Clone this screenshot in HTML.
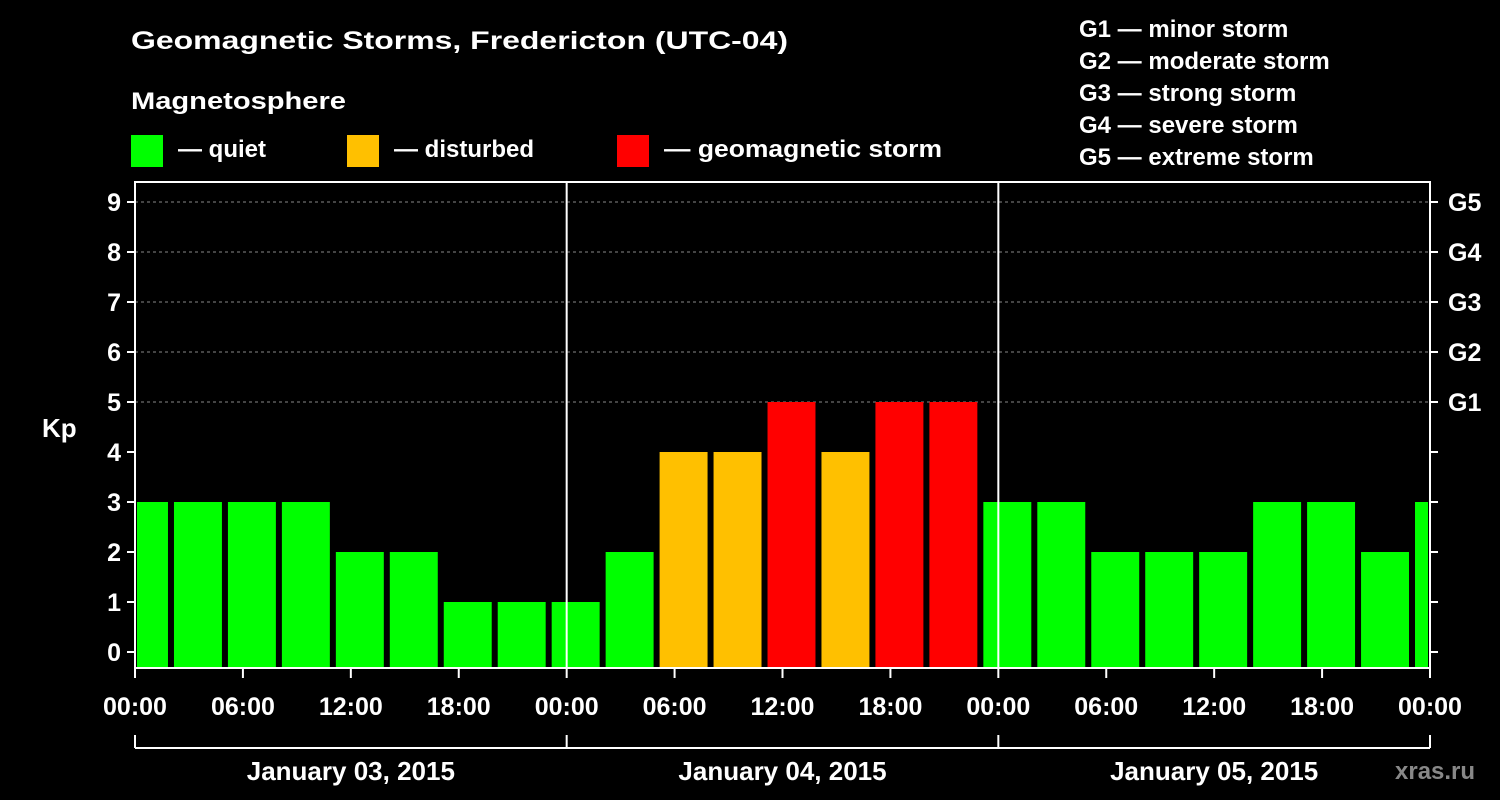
<!DOCTYPE html>
<html><head><meta charset="utf-8"><style>
html,body{margin:0;padding:0;background:#000;}
svg{display:block;font-family:"Liberation Sans",sans-serif;font-weight:bold;}
</style></head><body>
<svg id="chart" width="1500" height="800" viewBox="0 0 1500 800">
<rect x="0" y="0" width="1500" height="800" fill="#000"/>
<text x="131" y="49" fill="#fff" font-size="25" textLength="657" lengthAdjust="spacingAndGlyphs">Geomagnetic Storms, Fredericton (UTC-04)</text>
<text x="131" y="109" fill="#fff" font-size="24" textLength="215" lengthAdjust="spacingAndGlyphs">Magnetosphere</text>
<g><rect x="131" y="135" width="32" height="32" fill="#00ff00"/><text x="178" y="157" fill="#fff" font-size="24">— quiet</text></g>
<g><rect x="347" y="135" width="32" height="32" fill="#ffc000"/><text x="394" y="157" fill="#fff" font-size="24">— disturbed</text></g>
<g><rect x="617" y="135" width="32" height="32" fill="#ff0000"/><text x="664" y="157" fill="#fff" font-size="24" textLength="278" lengthAdjust="spacingAndGlyphs">— geomagnetic storm</text></g>
<g fill="#fff" font-size="24">
<text x="1079" y="37">G1 — minor storm</text>
<text x="1079" y="69">G2 — moderate storm</text>
<text x="1079" y="101">G3 — strong storm</text>
<text x="1079" y="133">G4 — severe storm</text>
<text x="1079" y="165">G5 — extreme storm</text>
</g>
<text x="42" y="437" fill="#fff" font-size="26">Kp</text>
<text x="1395" y="779" fill="#888" font-size="24">xras.ru</text>
<g id="grid"></g><g id="bars"></g><g id="axes"></g>
</svg>
<script>
const kpValues=[3,3,3,3,2,2,1,1,1,2,4,4,5,4,5,5,3,3,2,2,2,3,3,2,3];
const yTicks=[0,1,2,3,4,5,6,7,8,9];
const gLabels=["","","","","","G1","G2","G3","G4","G5"];
const xTickLabels=["00:00","06:00","12:00","18:00","00:00","06:00","12:00","18:00","00:00","06:00","12:00","18:00","00:00"];
const dateLabels=["January 03, 2015","January 04, 2015","January 05, 2015"];
const firstBarHour=-1, barHours=3;
const NS="http://www.w3.org/2000/svg";
const X0=135,X1=1430,TOP=182,BOT=668;
const pxPerHour=(X1-X0)/72;
const xs=h=>X0+h*pxPerHour;
const ys=v=>652-50*v;
function mk(tag,attrs,parent,txt){const e=document.createElementNS(NS,tag);for(const k in attrs)e.setAttribute(k,attrs[k]);if(txt!==undefined)e.textContent=txt;parent.appendChild(e);return e;}
const grid=document.getElementById('grid'),bars=document.getElementById('bars'),axes=document.getElementById('axes');
yTicks.forEach(v=>{if(v>=5){const l=mk('line',{x1:X0,x2:X1,y1:ys(v),y2:ys(v),stroke:'#888','stroke-dasharray':'3,3'},grid);

}});
mk('clipPath',{id:'clip'},bars).appendChild(Object.assign(document.createElementNS(NS,'rect'),{}));
const cr=bars.querySelector('clipPath rect');cr.setAttribute('x',X0+2);cr.setAttribute('y',TOP);cr.setAttribute('width',X1-X0-4);cr.setAttribute('height',BOT-TOP);
kpValues.forEach((v,i)=>{const h=firstBarHour+i*barHours;const c=v>=5?'#ff0000':(v>=4?'#ffc000':'#00ff00');
const r=mk('rect',{x:xs(h)+3,y:ys(v),width:barHours*pxPerHour-6,height:BOT-ys(v),fill:c,'clip-path':'url(#clip)'},bars);

});
const frame=mk('rect',{x:X0,y:TOP,width:X1-X0,height:BOT-TOP,fill:'none',stroke:'#fff','stroke-width':2},axes);


[24,48].forEach(h=>{const l=mk('line',{x1:xs(h),x2:xs(h),y1:TOP,y2:BOT,stroke:'#fff','stroke-width':2},axes);

});
yTicks.forEach((v,i)=>{mk('line',{x1:X0-8,x2:X0,y1:ys(v),y2:ys(v),stroke:'#fff','stroke-width':2},axes);
mk('line',{x1:X1,x2:X1+8,y1:ys(v),y2:ys(v),stroke:'#fff','stroke-width':2},axes);
const t=mk('text',{x:X0-14,y:ys(v)+9,fill:'#fff','font-size':25,'text-anchor':'end'},axes,String(v));


if(gLabels[i]){const g=mk('text',{x:X1+18,y:ys(v)+9,fill:'#fff','font-size':25},axes,gLabels[i]);

}});
xTickLabels.forEach((s,i)=>{const x=xs(i*6);mk('line',{x1:x,x2:x,y1:BOT,y2:BOT+10,stroke:'#fff','stroke-width':2},axes);
const t=mk('text',{x:x,y:715,fill:'#fff','font-size':25,'text-anchor':'middle'},axes,s);

});
mk('line',{x1:X0,x2:X1,y1:748,y2:748,stroke:'#fff','stroke-width':2},axes);
[0,24,48,72].forEach(h=>mk('line',{x1:xs(h),x2:xs(h),y1:735,y2:748,stroke:'#fff','stroke-width':2},axes));
dateLabels.forEach((s,i)=>{const t=mk('text',{x:xs(i*24+12),y:780,fill:'#fff','font-size':26,'text-anchor':'middle'},axes,s);

});
</script>
</body></html>
